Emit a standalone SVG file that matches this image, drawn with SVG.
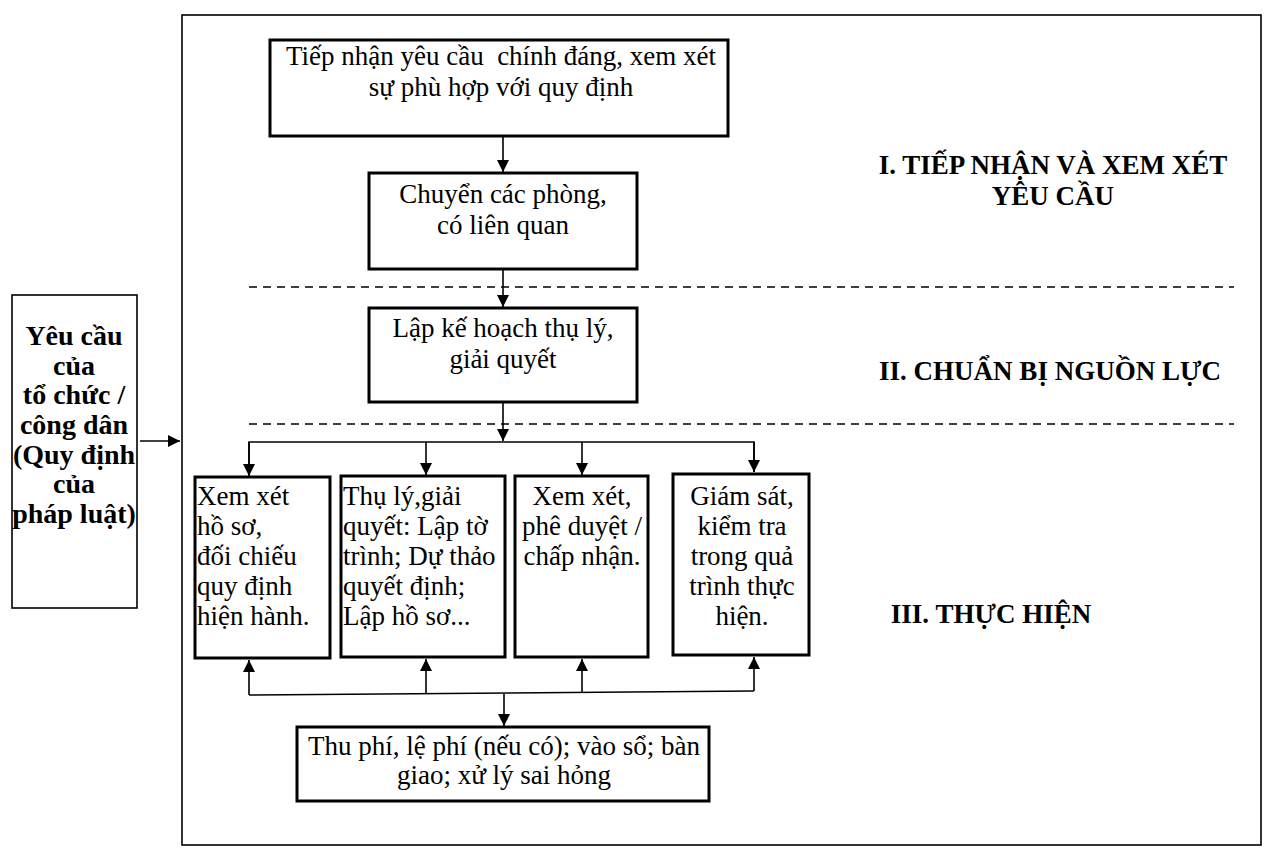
<svg xmlns="http://www.w3.org/2000/svg" width="1270" height="850" viewBox="0 0 1270 850">
<style>
.box{fill:#fff;stroke:#000;stroke-width:3}
.t{font-family:"Liberation Serif","Times New Roman",serif;font-size:27px;fill:#000}
.c{text-anchor:middle}
.b{font-weight:bold;font-size:28px}
.lbl{font-family:"Liberation Serif","Times New Roman",serif;font-size:27px;font-weight:bold;fill:#000;text-anchor:middle}
.ln{fill:none;stroke:#000;stroke-width:1.6}
.dash{fill:none;stroke:#000;stroke-width:1.6;stroke-dasharray:8 6}
</style>
<defs>
<marker id="ah" markerWidth="12" markerHeight="14" refX="12" refY="7" orient="auto" markerUnits="userSpaceOnUse">
<path d="M0,1 L12,7 L0,13 Z" fill="#000"/>
</marker>
</defs>
<rect width="1270" height="850" fill="#fff"/>
<rect id="frame" x="182" y="15" width="1079" height="830" fill="none" stroke="#000" stroke-width="1.6"/>
<g id="separators">
<line class="dash" x1="249" y1="287" x2="1234" y2="287"/>
<line class="dash" x1="249" y1="424" x2="1234" y2="424"/>
</g>
<g id="connectors">
<line class="ln" x1="140" y1="441" x2="180" y2="441" marker-end="url(#ah)"/>
<line class="ln" x1="503" y1="137" x2="503" y2="172" marker-end="url(#ah)"/>
<line class="ln" x1="503" y1="270" x2="503" y2="307" marker-end="url(#ah)"/>
<line class="ln" x1="503" y1="403" x2="503" y2="441" marker-end="url(#ah)"/>
<polyline class="ln" points="249,476 249,442 754,442 754,472"/>
<line class="ln" x1="249" y1="442" x2="249" y2="476" marker-end="url(#ah)"/>
<line class="ln" x1="426" y1="442" x2="426" y2="475" marker-end="url(#ah)"/>
<line class="ln" x1="582" y1="442" x2="582" y2="475" marker-end="url(#ah)"/>
<line class="ln" x1="754" y1="442" x2="754" y2="472" marker-end="url(#ah)"/>
<polyline class="ln" points="249,695 754,691"/>
<line class="ln" x1="249" y1="695" x2="249" y2="660" marker-end="url(#ah)"/>
<line class="ln" x1="426" y1="694" x2="426" y2="659" marker-end="url(#ah)"/>
<line class="ln" x1="582" y1="693" x2="582" y2="659" marker-end="url(#ah)"/>
<line class="ln" x1="754" y1="691" x2="754" y2="657" marker-end="url(#ah)"/>
<line class="ln" x1="504" y1="694" x2="504" y2="726" marker-end="url(#ah)"/>
</g>
<g id="n_source">
<rect x="12" y="295" width="125" height="313" fill="#fff" stroke="#000" stroke-width="1.6"/>
<text class="t c b"><tspan x="74" y="345">Yêu cầu</tspan><tspan x="74" y="375">của</tspan><tspan x="74" y="404">tổ chức /</tspan><tspan x="74" y="434">công dân</tspan><tspan x="74" y="464">(Quy định</tspan><tspan x="74" y="493">của</tspan><tspan x="74" y="523">pháp luật)</tspan></text>
</g>
<g id="n_tiepnhan">
<rect class="box" x="270" y="40" width="458" height="96"/>
<text class="t c" style="white-space:pre"><tspan x="501" y="65">Tiếp nhận yêu cầu  chính đáng, xem xét</tspan><tspan x="501" y="96">sự phù hợp với quy định</tspan></text>
</g>
<g id="n_chuyen">
<rect class="box" x="369" y="173" width="268" height="96"/>
<text class="t c"><tspan x="503" y="203">Chuyển các phòng,</tspan><tspan x="503" y="234">có liên quan</tspan></text>
</g>
<g id="n_lapkehoach">
<rect class="box" x="369" y="308" width="268" height="94"/>
<text class="t c"><tspan x="503" y="337">Lập kế hoạch thụ lý,</tspan><tspan x="503" y="368">giải quyết</tspan></text>
</g>
<g id="n_xemxethoso">
<rect class="box" x="195" y="477" width="135" height="181"/>
<text class="t"><tspan x="197" y="505">Xem xét</tspan><tspan x="197" y="535">hồ sơ,</tspan><tspan x="197" y="565">đối chiếu</tspan><tspan x="197" y="595">quy định</tspan><tspan x="197" y="625">hiện hành.</tspan></text>
</g>
<g id="n_thuly">
<rect class="box" x="341" y="476" width="164" height="181"/>
<text class="t"><tspan x="343" y="505">Thụ lý,giải</tspan><tspan x="343" y="535">quyết: Lập tờ</tspan><tspan x="343" y="565">trình; Dự thảo</tspan><tspan x="343" y="595">quyết định;</tspan><tspan x="343" y="625">Lập hồ sơ...</tspan></text>
</g>
<g id="n_pheduyet">
<rect class="box" x="515" y="476" width="133" height="181"/>
<text class="t c"><tspan x="582" y="505">Xem xét,</tspan><tspan x="582" y="535">phê duyệt /</tspan><tspan x="582" y="565">chấp nhận.</tspan></text>
</g>
<g id="n_giamsat">
<rect class="box" x="673" y="474" width="136" height="181"/>
<text class="t c"><tspan x="742" y="505">Giám sát,</tspan><tspan x="742" y="535">kiểm tra</tspan><tspan x="742" y="565">trong quả</tspan><tspan x="742" y="595">trình thực</tspan><tspan x="742" y="625">hiện.</tspan></text>
</g>
<g id="n_thuphi">
<rect class="box" x="297" y="727" width="412" height="74"/>
<text class="t c"><tspan x="504" y="755">Thu phí, lệ phí (nếu có); vào sổ; bàn</tspan><tspan x="504" y="784">giao; xử lý sai hỏng</tspan></text>
</g>
<g id="labels">
<text class="lbl"><tspan x="1053" y="174">I. TIẾP NHẬN VÀ XEM XÉT</tspan><tspan x="1053" y="205">YÊU CẦU</tspan></text>
<text class="lbl" x="1050" y="380">II. CHUẨN BỊ NGUỒN LỰC</text>
<text class="lbl" x="991" y="623">III. THỰC HIỆN</text>
</g>
</svg>
